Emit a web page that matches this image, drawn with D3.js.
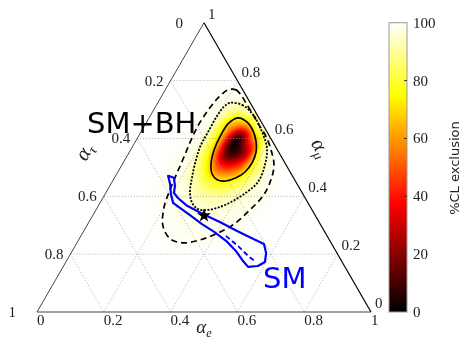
<!DOCTYPE html>
<html>
<head>
<meta charset="utf-8">
<script src="https://cdn.jsdelivr.net/npm/d3@7"></script>
<style>
  body { margin: 0; background: #fff; }
  #chart { position: relative; width: 463px; height: 338px; }
  #chart canvas, #chart svg { position: absolute; left: 0; top: 0; }
</style>
</head>
<body>
<div id="chart"></div>
<script>
// ternary tick values
const ticks = [0, 0.2, 0.4, 0.6, 0.8, 1];
const tickLabels = ['0', '0.2', '0.4', '0.6', '0.8', '1'];

// %CL exclusion on a grid of (alpha_e, alpha_mu); everything outside is 100
const gridE = [0.10, 0.15, 0.20, 0.25, 0.30, 0.35, 0.40, 0.45, 0.50, 0.55];
const gridMu = [0.80, 0.75, 0.70, 0.65, 0.60, 0.55, 0.50, 0.45, 0.40, 0.35, 0.30, 0.25, 0.20];
const clGrid = [
  [100, 99.9, 99.7, 100, 100, 100, 100, 100, 100, 100],
  [100, 99.5, 98.6, 99.0, 100, 100, 100, 100, 100, 100],
  [99.9, 99.3, 97.0, 88.7, 98.1, 100, 100, 100, 100, 100],
  [99.9, 98.9, 95.1, 68.0, 63.7, 98.9, 100, 100, 100, 100],
  [99.9, 99.1, 94.5, 62.9, 6.9, 60.0, 99.0, 100, 100, 100],
  [99.9, 98.9, 95.0, 66.0, 9.6, 26.7, 88.7, 99.7, 100, 100],
  [99.8, 98.9, 96.0, 79.5, 45.6, 47.7, 80.0, 98.1, 100, 100],
  [99.8, 99.2, 97.4, 91.1, 76.8, 75.3, 86.5, 97.1, 99.7, 100],
  [99.9, 99.5, 98.5, 96.2, 91.3, 90.1, 94.1, 97.3, 99.4, 100],
  [100, 99.7, 99.2, 98.0, 96.4, 96.1, 96.8, 98.1, 99.4, 99.9],
  [100, 99.9, 99.6, 99.0, 98.1, 98.0, 98.3, 99.0, 99.6, 100],
  [100, 100, 100, 99.5, 99.1, 99.0, 99.1, 99.5, 99.9, 100],
  [100, 100, 100, 100, 99.8, 99.8, 100, 100, 100, 100]
];

// contours, [alpha_e, alpha_mu]
const contour68 = [[0.266,0.671],[0.300,0.657],[0.334,0.626],[0.362,0.588],[0.379,0.554],[0.386,0.516],
  [0.381,0.484],[0.364,0.464],[0.339,0.453],[0.311,0.457],[0.285,0.478],[0.265,0.512],[0.250,0.561],
  [0.245,0.606],[0.247,0.651]];
const contour95 = [[0.216,0.723],[0.256,0.716],[0.306,0.682],[0.362,0.623],[0.405,0.567],[0.428,0.509],
  [0.437,0.450],[0.421,0.415],[0.395,0.384],[0.366,0.363],[0.336,0.353],[0.304,0.356],[0.276,0.377],
  [0.252,0.412],[0.232,0.464],[0.213,0.526],[0.202,0.578],[0.201,0.623],[0.200,0.678],[0.205,0.709]];
const contour99 = [[0.188,0.768],[0.212,0.768],[0.235,0.751],[0.271,0.716],[0.306,0.682],[0.341,0.647],
  [0.383,0.606],[0.420,0.561],[0.455,0.509],[0.472,0.457],[0.476,0.401],[0.461,0.353],[0.438,0.304],
  [0.405,0.273],[0.363,0.249],[0.318,0.239],[0.272,0.253],[0.228,0.298],[0.200,0.360],[0.187,0.422],
  [0.179,0.481],[0.172,0.536],[0.164,0.595],[0.160,0.651],[0.164,0.702],[0.172,0.740]];
const smContour = [[0.157,0.471],[0.178,0.464],[0.195,0.436],[0.204,0.412],[0.225,0.394],[0.266,0.367],
  [0.327,0.339],[0.392,0.311],[0.459,0.280],[0.520,0.253],[0.562,0.235],[0.584,0.204],[0.596,0.173],
  [0.582,0.159],[0.554,0.156],[0.529,0.176],[0.490,0.211],[0.443,0.246],[0.392,0.277],[0.342,0.304],
  [0.295,0.332],[0.248,0.360],[0.219,0.377],[0.197,0.408],[0.177,0.443]];
const smDashed = [[0.434,0.263],[0.488,0.228],[0.535,0.194],[0.569,0.173]];
const benchmark = [1 / 3, 1 / 3];

const cbTicks = [0, 20, 40, 60, 80, 100];

const W = 463, H = 338;
const side = 334;
const x = d3.scaleLinear().domain([0, 1]).range([37, 37 + side]);
const y = d3.scaleLinear().domain([0, 1]).range([312, 312 - side * Math.sqrt(3) / 2]);
const proj = (ae, amu) => [x(ae + amu / 2), y(amu)];

const hot = d3.scaleLinear()
  .domain([0, 37.5, 75, 100])
  .range(['#000000', '#ff0000', '#ffff00', '#ffffff'])
  .clamp(true);

const container = d3.select('#chart');
const canvas = container.append('canvas').attr('width', W).attr('height', H);
const svg = container.append('svg').attr('width', W).attr('height', H);

// --- heatmap (catmull-rom through the grid)
function cr(p0, p1, p2, p3, t) {
  return p1 + 0.5 * t * (p2 - p0 + t * (2 * p0 - 5 * p1 + 4 * p2 - p3 + t * (3 * (p1 - p2) + p3 - p0)));
}
const nr = gridMu.length, nc = gridE.length;
function clAt(ae, amu) {
  const fi = (gridMu[0] - amu) / (gridMu[0] - gridMu[1]);
  const fj = (ae - gridE[0]) / (gridE[1] - gridE[0]);
  if (fi < 0 || fi > nr - 1 || fj < 0 || fj > nc - 1) return 100;
  const i = Math.min(Math.floor(fi), nr - 2), j = Math.min(Math.floor(fj), nc - 2);
  const g = (r, c) => clGrid[Math.max(0, Math.min(nr - 1, r))][Math.max(0, Math.min(nc - 1, c))];
  const rows = [-1, 0, 1, 2].map(k => cr(g(i + k, j - 1), g(i + k, j), g(i + k, j + 1), g(i + k, j + 2), fj - j));
  return Math.max(0, Math.min(100, cr(rows[0], rows[1], rows[2], rows[3], fi - i)));
}

const ctx = canvas.node().getContext('2d');
const img = ctx.createImageData(W, H);
for (let py = 0; py < H; py++) {
  for (let px = 0; px < W; px++) {
    const amu = y.invert(py + 0.5);
    const ae = x.invert(px + 0.5) - amu / 2;
    if (amu < 0 || ae < 0 || ae + amu > 1) continue;
    const v = clAt(ae, amu);
    if (v >= 99.95) continue;
    const c = d3.rgb(hot(v));
    const k = 4 * (py * W + px);
    img.data[k] = c.r; img.data[k + 1] = c.g; img.data[k + 2] = c.b; img.data[k + 3] = 255;
  }
}
ctx.putImageData(img, 0, 0);

// --- grid
const gridG = svg.append('g')
  .attr('fill', 'none')
  .attr('stroke', '#9a9a9a')
  .attr('stroke-width', 0.8)
  .attr('stroke-dasharray', '1,2');
ticks.filter(v => v > 0 && v < 1).forEach(v => {
  [[proj(0, v), proj(1 - v, v)],
   [proj(v, 0), proj(v, 1 - v)],
   [proj(1 - v, 0), proj(0, 1 - v)]].forEach(seg => {
    gridG.append('line')
      .attr('x1', seg[0][0]).attr('y1', seg[0][1])
      .attr('x2', seg[1][0]).attr('y2', seg[1][1]);
  });
});

// --- triangle
const A = proj(0, 0), B = proj(1, 0), C = proj(0, 1);
svg.append('line').attr('x1', A[0]).attr('y1', A[1]).attr('x2', B[0]).attr('y2', B[1])
  .attr('stroke', '#444').attr('stroke-width', 1);
svg.append('line').attr('x1', A[0]).attr('y1', A[1]).attr('x2', C[0]).attr('y2', C[1])
  .attr('stroke', '#444').attr('stroke-width', 1);
svg.append('line').attr('x1', C[0]).attr('y1', C[1]).attr('x2', B[0]).attr('y2', B[1])
  .attr('stroke', '#000').attr('stroke-width', 1.2);

// --- tick labels
const tickFont = "'Liberation Serif', serif";
const labels = svg.append('g')
  .attr('font-family', tickFont)
  .attr('font-size', 15)
  .attr('fill', '#222');
ticks.forEach((v, i) => {
  const pb = proj(v, 0);
  labels.append('text').attr('x', pb[0]).attr('y', pb[1] + 13).text(tickLabels[i]);
  const pr = proj(1 - v, v);
  labels.append('text').attr('x', pr[0] + 4).attr('y', pr[1] - 4).text(tickLabels[i]);
  const pl = proj(0, 1 - v);
  labels.append('text')
    .attr('text-anchor', 'end')
    .attr('x', pl[0] - (v === 0 || v === 1 ? 21 : 7))
    .attr('y', pl[1] + 5)
    .text(tickLabels[i]);
});

// --- axis titles
function greekTitle(px, py, sub, rot, size) {
  const t = svg.append('text')
    .attr('font-family', tickFont)
    .attr('font-style', 'italic')
    .attr('font-size', size)
    .attr('fill', '#222')
    .attr('text-anchor', 'middle')
    .attr('transform', `translate(${px},${py}) rotate(${rot})`);
  t.append('tspan').text('α');
  t.append('tspan').attr('font-size', size * 0.65).attr('dy', 4).text(sub);
}
greekTitle(204, 333, 'e', 0, 19);
greekTitle(90, 155, 'τ', -60, 21);
greekTitle(315, 151, 'μ', 60, 21);

// --- contours
const line = d3.line().curve(d3.curveCatmullRomClosed.alpha(0.5));
const pts = arr => arr.map(d => proj(d[0], d[1]));

svg.append('path').attr('d', line(pts(contour99)))
  .attr('fill', 'none').attr('stroke', '#000').attr('stroke-width', 1.7)
  .attr('stroke-dasharray', '6,4');
svg.append('path').attr('d', line(pts(contour95)))
  .attr('fill', 'none').attr('stroke', '#000').attr('stroke-width', 1.8)
  .attr('stroke-dasharray', '2,1.5');
svg.append('path').attr('d', line(pts(contour68)))
  .attr('fill', 'none').attr('stroke', '#000').attr('stroke-width', 1.6);

svg.append('path').attr('d', d3.line().curve(d3.curveLinearClosed)(pts(smContour)))
  .attr('fill', 'none').attr('stroke', '#0000ff').attr('stroke-width', 2.2)
  .attr('stroke-linejoin', 'round');
svg.append('path').attr('d', d3.line()(pts(smDashed)))
  .attr('fill', 'none').attr('stroke', '#0000ff').attr('stroke-width', 1.8)
  .attr('stroke-dasharray', '5,3');

const bp = proj(benchmark[0], benchmark[1]);
svg.append('path')
  .attr('d', d3.symbol().type(d3.symbolStar).size(60)())
  .attr('transform', `translate(${bp[0]},${bp[1]})`)
  .attr('fill', '#000');

// --- annotations
svg.append('text')
  .attr('x', 87).attr('y', 133)
  .attr('font-family', "'DejaVu Sans', sans-serif")
  .attr('font-size', 29)
  .attr('fill', '#000')
  .text('SM+BH');
svg.append('text')
  .attr('x', 263).attr('y', 288)
  .attr('font-family', "'DejaVu Sans', sans-serif")
  .attr('font-size', 29)
  .attr('fill', '#0000ff')
  .text('SM');

// --- colorbar
const cb = d3.scaleLinear().domain([0, 100]).range([y(0), y(1)]);
const cbX = 389, cbW = 18;
const grad = svg.append('defs').append('linearGradient')
  .attr('id', 'hotgrad')
  .attr('x1', '0%').attr('y1', '100%').attr('x2', '0%').attr('y2', '0%');
hot.domain().forEach(v => {
  grad.append('stop').attr('offset', `${v}%`).attr('stop-color', hot(v));
});
svg.append('rect')
  .attr('x', cbX).attr('y', cb(100))
  .attr('width', cbW).attr('height', cb(0) - cb(100))
  .attr('fill', 'url(#hotgrad)')
  .attr('stroke', '#999').attr('stroke-width', 1);
cbTicks.forEach(v => {
  if (v > 0 && v < 100) {
    svg.append('line')
      .attr('x1', cbX + cbW - 3).attr('x2', cbX + cbW)
      .attr('y1', cb(v)).attr('y2', cb(v))
      .attr('stroke', '#333').attr('stroke-width', 1);
  }
  svg.append('text')
    .attr('x', cbX + cbW + 6).attr('y', cb(v) + 5)
    .attr('font-family', tickFont).attr('font-size', 15).attr('fill', '#222')
    .text(v);
});
svg.append('text')
  .attr('transform', `translate(459,168) rotate(-90)`)
  .attr('text-anchor', 'middle')
  .attr('font-family', "'DejaVu Sans', sans-serif")
  .attr('font-size', 13)
  .attr('fill', '#222')
  .text('%CL exclusion');
</script>
</body>
</html>
